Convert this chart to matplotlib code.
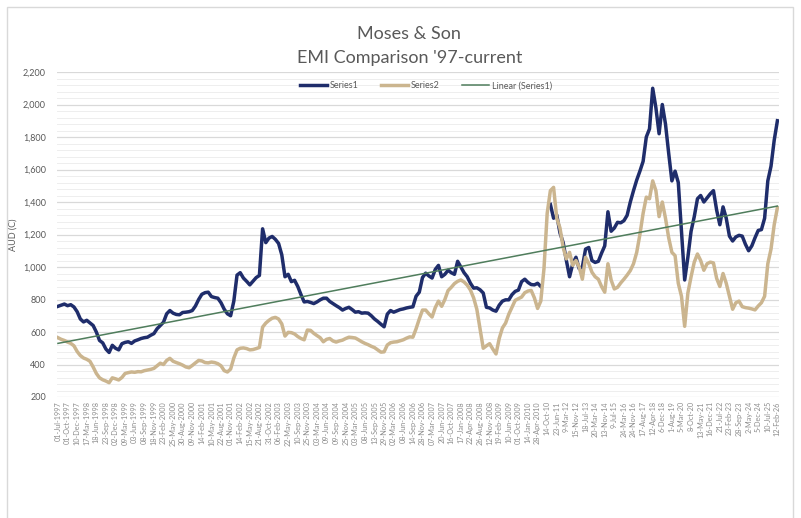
import numpy as np
import matplotlib.pyplot as plt
from matplotlib.patches import Rectangle

plt.rcParams['font.family'] = ['Lato', 'DejaVu Sans']

# x-axis category labels (one every 3 data points)
tick_labels = [
    '01-Jul-1997', '01-Oct-1997', '10-Dec-1997', '17-Mar-1998', '18-Jun-1998',
    '23-Sep-1998', '02-Dec-1998', '09-Mar-1999', '03-Jun-1999', '08-Sep-1999',
    '18-Nov-1999', '23-Feb-2000', '25-May-2000', '30-Aug-2000', '09-Nov-2000',
    '14-Feb-2001', '10-May-2001', '22-Aug-2001', '01-Nov-2001', '14-Feb-2002',
    '15-May-2002', '21-Aug-2002', '31-Oct-2002', '06-Feb-2003', '22-May-2003',
    '10-Sep-2003', '25-Nov-2003', '03-Mar-2004', '09-Jun-2004', '09-Sep-2004',
    '25-Nov-2004', '03-Mar-2005', '08-Jun-2005', '13-Sep-2005', '29-Nov-2005',
    '02-Mar-2006', '08-Jun-2006', '14-Sep-2006', '28-Nov-2006', '07-Mar-2007',
    '20-Jun-2007', '16-Oct-2007', '17-Jan-2008', '22-Apr-2008', '26-Aug-2008',
    '12-Nov-2008', '19-Feb-2009', '10-Jun-2009', '01-Oct-2009', '14-Jan-2010',
    '28-Apr-2010', '14-Oct-10', '23-Jun-11', '9-Mar-12', '15-Nov-12',
    '18-Jul-13', '20-Mar-14', '13-Nov-14', '9-Jul-15', '24-Mar-16',
    '24-Nov-16', '17-Aug-17', '12-Apr-18', '6-Dec-18', '1-Aug-19',
    '5-Mar-20', '8-Oct-20', '13-May-21', '16-Dec-21', '21-Jul-22',
    '23-Feb-23', '28-Sep-23', '2-May-24', '5-Dec-24', '10-Jul-25', '12-Feb-26',
]

nan = np.nan
series1 = [
    758, 765, 772, 762, 768, 754, 725, 680, 662, 672,
    656, 640, 600, 548, 533, 495, 474, 518, 500, 490,
    528, 536, 540, 530, 545, 552, 560, 565, 568, 580,
    590, 620, 640, 660, 712, 732, 716, 708, 706, 720,
    722, 725, 732, 760, 800, 832, 842, 845, 818, 812,
    808, 780, 740, 712, 700, 790, 950, 965, 932, 912,
    890, 912, 935, 948, 1235, 1150, 1178, 1188, 1170, 1145,
    1075, 940, 955, 910, 918, 880, 830, 785, 788, 782,
    775, 785, 798, 808, 808, 788, 775, 762, 750, 735,
    745, 752, 738, 722, 725, 716, 718, 716, 700, 680,
    665, 648, 632, 710, 732, 722, 730, 738, 742, 748,
    752, 755, 820, 845, 935, 962, 945, 932, 985, 1010,
    940, 955, 980, 965, 955, 1035, 1000, 965, 940, 900,
    870, 872, 860, 840, 752, 748, 735, 728, 765, 790,
    798, 798, 830, 850, 858, 910, 925, 905, 892, 890,
    900, 880, nan, nan, 1385, 1300, 1320, 1210, 1150, 1040,
    940, 1020, 1060, 990, 1000, 1110, 1120, 1040, 1028, 1035,
    1085, 1130, 1340, 1220, 1240, 1275, 1272, 1285, 1318, 1400,
    1470, 1535, 1590, 1650, 1800, 1850, 2100, 1980, 1820, 2000,
    1880, 1700, 1530, 1590, 1520, 1220, 920, 1060, 1220, 1310,
    1420, 1440, 1400, 1425, 1450, 1470, 1350, 1260, 1370, 1300,
    1190, 1160, 1185, 1195, 1190, 1140, 1100, 1130, 1180, 1225,
    1230, 1300, 1530, 1620, 1780, 1900,
]
series2 = [
    565, 555, 548, 538, 530, 515, 480, 455, 440, 432,
    420, 385, 345, 318, 306, 298, 288, 318, 312, 305,
    320, 345, 350, 354, 352, 356, 355, 362, 366, 370,
    376, 392, 408, 400, 425, 438, 420, 412, 405, 396,
    385, 380, 394, 410, 425, 422, 412, 410, 415, 412,
    405, 392, 362, 354, 372, 440, 490, 500, 502, 498,
    490, 492, 498, 505, 630, 655, 672, 685, 690, 680,
    650, 575, 598, 596, 588, 572, 560, 552, 612, 610,
    592, 578, 565, 540, 555, 560, 545, 538, 545, 550,
    560, 568, 566, 563, 552, 540, 530, 522, 512, 504,
    490, 476, 478, 520, 534, 538, 540, 546, 552, 562,
    570, 568, 620, 680, 735, 735, 712, 692, 750, 790,
    758, 800, 855, 875, 898, 912, 920, 908, 888, 858,
    810, 740, 620, 500, 515, 528, 495, 465, 560, 625,
    655, 710, 752, 795, 805, 815, 842, 852, 856, 810,
    745, 790, 990, 1330, 1470, 1490, 1300, 1240, 1120, 1050,
    1090, 1010, 1040, 1000, 925, 1060, 1022, 968, 940, 925,
    880, 845, 1020, 920, 865, 875, 902, 925, 950, 978,
    1020, 1090, 1200, 1330, 1430, 1420, 1530, 1470, 1310, 1400,
    1300, 1180, 1090, 1070, 900, 820, 635, 840, 940, 1030,
    1080, 1040, 980, 1020, 1030, 1025, 930, 880, 960, 900,
    820, 740, 780, 790, 756, 750, 747, 742, 736, 760,
    780, 820, 1020, 1110, 1260, 1365,
]
# Excel linear trendline of Series1, start and end values
trend_ends = [530, 1375]

s1 = np.array(series1, dtype=float)
s2 = np.array(series2, dtype=float)
x = np.arange(len(s1))

fig = plt.figure(figsize=(8.01, 5.18), dpi=100)
fig.patches.append(Rectangle((7 / 801, -0.05), 786 / 801, 1.05 - 7 / 518,
                             transform=fig.transFigure, fill=False,
                             edgecolor='#d9d9d9', lw=1))
ax = fig.add_axes([57 / 801, 1 - 397 / 518, 722 / 801, 325 / 518])

ax.plot(x, s1, color='#1f2d6b', lw=2.5, label='Series1', solid_joinstyle='round')
ax.plot(x, s2, color='#cbb58f', lw=2.5, label='Series2', solid_joinstyle='round')
ax.plot([x[0], x[-1]], trend_ends, color='#4f7d5c', lw=1.1, label='Linear (Series1)')

ax.set_ylim(200, 2200)
ax.set_xlim(-0.3, len(s1) - 0.5)
ax.set_yticks(np.arange(200, 2201, 200))
ax.set_yticklabels([f'{v:,}' for v in range(200, 2201, 200)])
ax.set_yticks(np.arange(200, 2201, 40), minor=True)
ax.set_xticks(np.arange(0, len(s1), 3))
ax.set_xticklabels(tick_labels, rotation=90, fontsize=5.2, color='#8c8c8c')
ax.tick_params(axis='y', labelsize=6.5, labelcolor='#595959', length=0, pad=8)
ax.tick_params(axis='y', which='minor', length=0)
ax.tick_params(axis='x', length=0, pad=3)
ax.grid(True, axis='y', which='major', color='#d9d9d9', lw=0.9)
ax.grid(True, axis='y', which='minor', color='#eeeeee', lw=0.7)
ax.set_axisbelow(True)
for sp in ax.spines.values():
    sp.set_visible(False)

ax.set_ylabel('AUD (C)', fontsize=6.5, color='#595959')
ax.yaxis.set_label_coords(-0.055, 0.5)

fig.text(0.511, 1 - 34 / 518, 'Moses & Son', ha='center', va='center',
         fontsize=13, color='#595959')
fig.text(0.511, 1 - 58 / 518, "EMI Comparison '97-current", ha='center', va='center',
         fontsize=13, color='#595959')

fig.legend(loc='center', bbox_to_anchor=(0.532, 1 - 86 / 518), ncol=3,
           frameon=False, fontsize=6.5, handlelength=3, columnspacing=2.5,
           handletextpad=0.3, labelcolor='#595959')

fig.savefig('out.png', dpi=100)
